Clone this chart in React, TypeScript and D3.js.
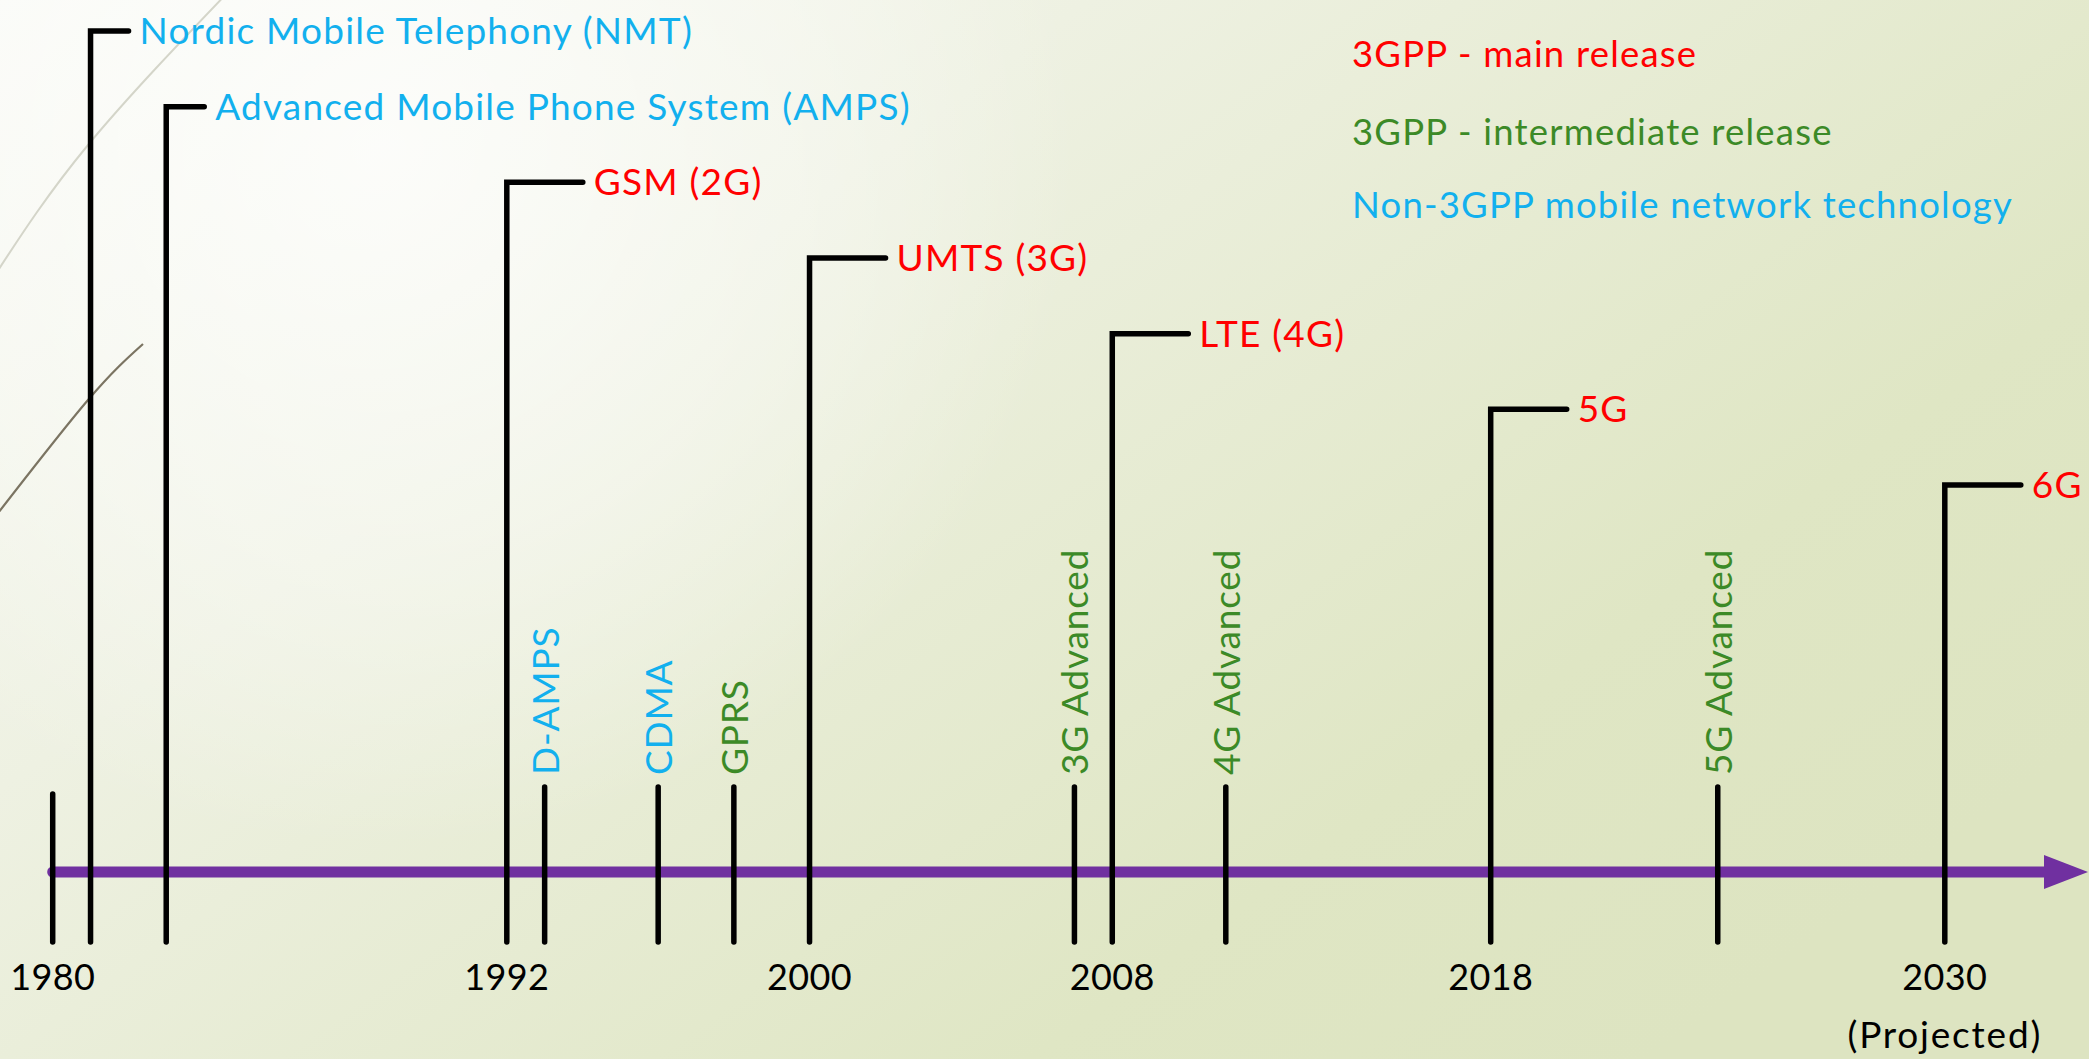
import React, { useEffect, useRef } from 'react';
import * as d3 from 'd3';

const W = 2089;
const H = 1059;

// years written under the axis
const yearTicks = [1980, 1992, 2000, 2008, 2018, 2030];

// generations: tall lines, label on the top arm
const mainNames = [
    'Nordic Mobile Telephony (NMT)',
    'Advanced Mobile Phone System (AMPS)',
    'GSM (2G)',
    'UMTS (3G)',
    'LTE (4G)',
    '5G',
    '6G'
];
const mainYears = [1981, 1983, 1992, 2000, 2008, 2018, 2030];
const mainKinds = ['other', 'other', 'main', 'main', 'main', 'main', 'main'];

// in-between releases: short ticks, vertical label
const minorNames = ['D-AMPS', 'CDMA', 'GPRS', '3G Advanced', '4G Advanced', '5G Advanced'];
const minorYears = [1993, 1996, 1998, 2007, 2011, 2024];
const minorKinds = ['other', 'other', 'inter', 'inter', 'inter', 'inter'];

const legendNames = ['3GPP - main release', '3GPP - intermediate release', 'Non-3GPP mobile network technology'];
const legendKinds = ['main', 'inter', 'other'];

const colors = { main: '#FF0000', inter: '#3C8A27', other: '#12B0EE' };
const font = 'Lato, "Open Sans", sans-serif';

const Timeline = () => {
    const ref = useRef(null);

    useEffect(() => {
        if (!ref.current) return;
        const svg = d3.select(ref.current);
        svg.selectAll('*').remove();

        const x = d3.scaleLinear().domain([1980, 2030]).range([52.7, 1944.8]);
        const rowY = d3.scaleLinear().domain([0, mainNames.length - 1]).range([31, 485]);
        const axisY = 872;
        const lineBottom = 942;
        const minorTop = 787;

        // background
        const defs = svg.append('defs');
        const bg = defs.append('linearGradient').attr('id', 'bg')
            .attr('x1', '0').attr('y1', '0').attr('x2', '1').attr('y2', '0.7');
        bg.append('stop').attr('offset', '0').attr('stop-color', '#f9faf5');
        bg.append('stop').attr('offset', '0.35').attr('stop-color', '#eef1e2');
        bg.append('stop').attr('offset', '0.8').attr('stop-color', '#dfe6c4');
        bg.append('stop').attr('offset', '1').attr('stop-color', '#dde4c1');
        const glow = defs.append('radialGradient').attr('id', 'glow')
            .attr('gradientUnits', 'userSpaceOnUse')
            .attr('cx', 380).attr('cy', 150).attr('r', 700);
        glow.append('stop').attr('offset', '0').attr('stop-color', '#ffffff').attr('stop-opacity', 0.75);
        glow.append('stop').attr('offset', '0.6').attr('stop-color', '#ffffff').attr('stop-opacity', 0.35);
        glow.append('stop').attr('offset', '1').attr('stop-color', '#ffffff').attr('stop-opacity', 0);

        svg.append('rect').attr('width', W).attr('height', H).attr('fill', 'url(#bg)');
        svg.append('rect').attr('width', W).attr('height', H).attr('fill', 'url(#glow)');

        // theme swooshes in the top-left corner
        const curve = d3.line().curve(d3.curveNatural);
        svg.append('path')
            .attr('d', curve([[-5, 275], [88, 145], [232, -12]]))
            .attr('fill', 'none').attr('stroke', '#d4d5c9').attr('stroke-width', 2);
        svg.append('path')
            .attr('d', curve([[-5, 517], [88, 400], [143, 344]]))
            .attr('fill', 'none').attr('stroke', '#7b7462').attr('stroke-width', 2.2);

        // axis with arrow
        const tipX = W - 1;
        const headLen = 44;
        svg.append('line')
            .attr('x1', x(1980)).attr('x2', tipX - headLen + 2)
            .attr('y1', axisY).attr('y2', axisY)
            .attr('stroke', '#7030A0').attr('stroke-width', 11).attr('stroke-linecap', 'round');
        svg.append('path')
            .attr('d', `M${tipX - headLen},${axisY - 17} L${tipX},${axisY} L${tipX - headLen},${axisY + 17} Z`)
            .attr('fill', '#7030A0');

        const lines = svg.append('g')
            .attr('fill', 'none').attr('stroke', '#000')
            .attr('stroke-width', 5.5).attr('stroke-linecap', 'round');

        // origin tick
        lines.append('line')
            .attr('x1', x(1980)).attr('x2', x(1980))
            .attr('y1', 794).attr('y2', lineBottom);

        // tall lines with arm
        const armLen = i => (mainKinds[i] === 'other' ? 38 : 76);
        lines.selectAll('path.main').data(d3.range(mainNames.length)).join('path')
            .attr('class', 'main')
            .attr('stroke-linejoin', 'miter')
            .attr('d', i => {
                const xx = x(mainYears[i]);
                return `M${xx},${lineBottom} V${rowY(i)} H${xx + armLen(i)}`;
            });

        svg.append('g').selectAll('text').data(d3.range(mainNames.length)).join('text')
            .attr('x', i => x(mainYears[i]) + armLen(i) + 11)
            .attr('y', i => rowY(i) + 13)
            .attr('font-family', font).attr('font-size', 37)
            .attr('letter-spacing', 1.2)
            .attr('fill', i => colors[mainKinds[i]])
            .text(i => mainNames[i]);

        // short ticks with vertical labels
        lines.selectAll('line.minor').data(minorYears).join('line')
            .attr('class', 'minor')
            .attr('x1', d => x(d)).attr('x2', d => x(d))
            .attr('y1', minorTop).attr('y2', lineBottom);

        svg.append('g').selectAll('text').data(d3.range(minorNames.length)).join('text')
            .attr('transform', i => `translate(${x(minorYears[i]) + 14},${minorTop - 12}) rotate(-90)`)
            .attr('font-family', font).attr('font-size', 37)
            .attr('letter-spacing', 0.8)
            .attr('fill', i => colors[minorKinds[i]])
            .text(i => minorNames[i]);

        // year labels
        const yearG = svg.append('g')
            .attr('font-family', font)
            .attr('text-anchor', 'middle').attr('fill', '#000');
        yearG.selectAll('text').data(yearTicks).join('text')
            .attr('x', d => x(d)).attr('y', 990)
            .attr('font-size', 36).attr('letter-spacing', 0.4)
            .text(d => d);
        yearG.append('text')
            .attr('x', x(2030)).attr('y', 1048)
            .attr('font-size', 37).attr('letter-spacing', 1.8)
            .text('(Projected)');

        // legend
        svg.append('g').selectAll('text').data(legendNames).join('text')
            .attr('x', 1352)
            .attr('y', (d, i) => [66.7, 145, 218][i])
            .attr('font-family', font).attr('font-size', 36.5)
            .attr('letter-spacing', 1.2)
            .attr('fill', (d, i) => colors[legendKinds[i]])
            .text(d => d);
    }, []);

    return (
        <svg
            ref={ref}
            width={W}
            height={H}
            style={{ position: 'absolute', left: 0, top: 0, display: 'block' }}
        />
    );
};

export default function App() {
    return <Timeline />;
}
